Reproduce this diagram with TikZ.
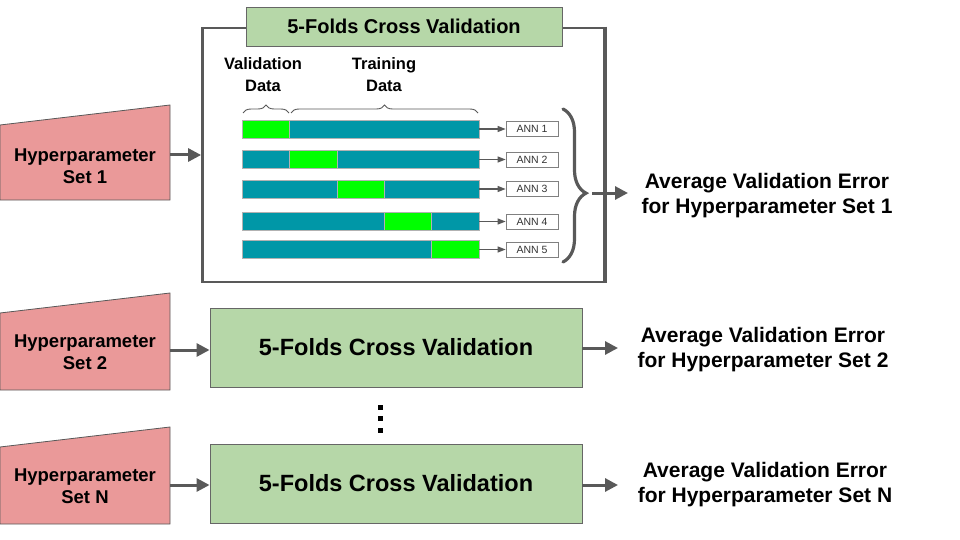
\documentclass[tikz,border=0pt]{standalone}
\usepackage{fontspec}
\setmainfont{Liberation Sans}
\usetikzlibrary{arrows.meta,decorations.pathreplacing,calc}
\definecolor{pinkc}{HTML}{EA9999}
\definecolor{greenc}{HTML}{B6D7A8}
\definecolor{tealc}{HTML}{0097A7}
\definecolor{limec}{HTML}{00FF00}
\definecolor{edgec}{HTML}{595959}
\definecolor{boxedge}{HTML}{666666}
\definecolor{anntext}{HTML}{333333}
\begin{document}
\begin{tikzpicture}[x=1pt,y=-1pt,
  hyper/.style={fill=pinkc, draw=edgec, line width=0.8pt},
  htext/.style={align=center, font=\bfseries\fontsize{18.5}{22}\selectfont, inner sep=0pt},
  cvbox/.style={fill=greenc, draw=boxedge, line width=0.9pt, minimum width=372pt, minimum height=79pt, inner sep=0pt, font=\bfseries\fontsize{23.5}{28}\selectfont},
  outtext/.style={align=center, font=\bfseries\fontsize{21}{25}\selectfont, inner sep=0pt},
  arr/.style={draw=edgec, line width=3pt, -{Triangle[length=13pt,width=13pt]}},
  framebox/.style={draw=edgec, line width=2.8pt, minimum width=401.5pt, minimum height=254pt, inner sep=0pt},
  titlebox/.style={fill=greenc, draw=boxedge, line width=0.9pt, minimum width=316pt, minimum height=39pt, inner sep=0pt, font=\bfseries\fontsize{20}{24}\selectfont},
  barbox/.style={fill=tealc, draw=gray!60, line width=0.5pt, minimum width=237pt, minimum height=18pt, inner sep=0pt},
  seg/.style={fill=limec, draw=gray!60, line width=0.5pt},
  annbox/.style={draw=gray, line width=0.8pt, fill=white, minimum width=52pt, minimum height=15pt, inner sep=0pt, font=\fontsize{10.5}{12}\selectfont, text=anntext},
  smallarr/.style={draw=edgec, line width=1.2pt, -{Triangle[length=8pt,width=6pt]}},
  brc/.style={draw=edgec, line width=0.9pt, decorate, decoration={brace, amplitude=8pt}},
  bigbrc/.style={draw=edgec, line width=3.2pt, line cap=round, decorate, decoration={brace, amplitude=23pt, aspect=0.55}},
  lbl/.style={align=center, font=\bfseries\fontsize{16.5}{22}\selectfont, inner sep=0pt},
  dotsq/.style={fill=black, minimum size=5pt, inner sep=0pt}
]
\useasboundingbox (0,0) rectangle (960,540);

% ---------- Hyperparameter shapes ----------
\draw[hyper] (0,125) -- (170,105) -- (170,200) -- (0,200) -- cycle;
\node[htext] (h1) at (85,166) {Hyperparameter\\Set 1};
\coordinate (p1) at (170,155);

\draw[hyper] (0,313) -- (170,293) -- (170,390) -- (0,390) -- cycle;
\node[htext] (h2) at (85,352) {Hyperparameter\\Set 2};
\coordinate (p2) at (170,350);

\draw[hyper] (0,447) -- (170,427) -- (170,524) -- (0,524) -- cycle;
\node[htext] (hN) at (85,486) {Hyperparameter\\Set N};
\coordinate (pN) at (170,485);

% ---------- Frame with detailed CV ----------
\node[framebox] (frame) at (403.25,155) {};
\node[titlebox] (title) at (404,26.5) {\raisebox{-1pt}{5-Folds Cross Validation}};

\node[lbl] (vl) at (263,75) {Validation\\Data};
\node[lbl] (tl) at (384,75) {Training\\Data};
\draw[brc] (243,113) -- (289,113);
\draw[brc] (291,113) -- (478,113);

\foreach \i/\y in {1/129, 2/159.5, 3/189, 4/221.5, 5/249.5}{
  \node[barbox] (bar\i) at (360.5,\y) {};
  \draw[seg] ({242+(\i-1)*47.4},{\y-9}) rectangle ++(47.4,18);
  \node[annbox] (ann\i) at (532,\y) {ANN \i};
  \draw[smallarr] (bar\i) -- (ann\i);
}

\draw[bigbrc] (563,109) -- (563,262);
\coordinate (bt) at (592,193);
\node[outtext] (o1) at (767,196) {Average Validation Error\\for Hyperparameter Set 1};
\coordinate (a1) at (628,193);
\draw[arr] (bt) -- (a1);
% redraw frame right edge over the arrow
\draw[draw=edgec, line width=2.8pt] (frame.north east) -- (frame.south east);

\draw[arr] (p1) -- (frame.west |- p1);

% ---------- Set 2 ----------
\node[cvbox] (cv2) at (396,347.5) {\raisebox{-2pt}{5-Folds Cross Validation}};
\draw[arr] (p2) -- (cv2.west |- p2);
\node[outtext] (o2) at (763,350) {Average Validation Error\\for Hyperparameter Set 2};
\coordinate (a2) at (618,348);
\draw[arr] (cv2.east |- a2) -- (a2);

% ---------- dots ----------
\node[dotsq] (d1) at (380,407) {};
\node[dotsq] (d2) at (380,418.5) {};
\node[dotsq] (d3) at (380,430) {};

% ---------- Set N ----------
\node[cvbox] (cvN) at (396,483.5) {\raisebox{-2pt}{5-Folds Cross Validation}};
\draw[arr] (pN) -- (cvN.west |- pN);
\node[outtext] (oN) at (765,485) {Average Validation Error\\for Hyperparameter Set N};
\coordinate (aN) at (618,485);
\draw[arr] (cvN.east |- aN) -- (aN);
\end{tikzpicture}
\end{document}
